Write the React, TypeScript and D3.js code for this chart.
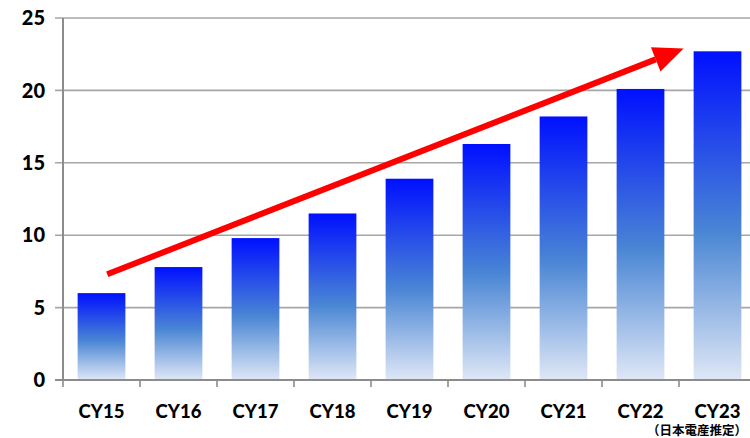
import React from "react";
import * as d3 from "d3";

const categories = ["CY15", "CY16", "CY17", "CY18", "CY19", "CY20", "CY21", "CY22", "CY23"];
const values = [6.0, 7.8, 9.8, 11.5, 13.9, 16.3, 18.2, 20.1, 22.7];
const yTicks = [0, 5, 10, 15, 20, 25];
const noteLabel = "（日本電産推定）";
const trendStart = 7.3;
const trendEnd = 22.9;

const W = 750;
const H = 438;
const left = 63;
const right = 756;
const top = 18;
const bottom = 380;

export default function App() {
  const x = d3.scaleBand<string>().domain(categories).range([left, right]).paddingInner(0.38).paddingOuter(0.19);
  const y = d3.scaleLinear().domain([0, 25]).range([bottom, top]);
  const step = x.step();
  const bw = x.bandwidth();
  const font = "Lato, 'Open Sans', sans-serif";

  const x0 = (x(categories[0]) as number) + bw * 0.62;
  const y0 = y(trendStart);
  const x1 = (x(categories[categories.length - 1]) as number) - 10;
  const y1 = y(trendEnd);
  const ang = Math.atan2(y1 - y0, x1 - x0);
  const headLen = 30;
  const headHalf = 13;
  const bx = x1 - headLen * Math.cos(ang);
  const by = y1 - headLen * Math.sin(ang);
  const px = -Math.sin(ang);
  const py = Math.cos(ang);
  const head = `M${x1},${y1} L${bx + px * headHalf},${by + py * headHalf} L${bx - px * headHalf},${by - py * headHalf} Z`;

  return (
    <svg width={W} height={H} style={{ position: "absolute", left: 0, top: 0, background: "#fff" }}>
      <defs>
        <linearGradient id="barGrad" x1="0" y1="0" x2="0" y2="1">
          <stop offset="0" stopColor="#0010ff" />
          <stop offset="0.55" stopColor="#4a86d4" />
          <stop offset="1" stopColor="#dfe7f6" />
        </linearGradient>
      </defs>
      {yTicks.map((t) => (
        <g key={t}>
          <line x1={left - 8} x2={W} y1={y(t)} y2={y(t)} stroke={t === 0 ? "#8c8c8c" : "#a6a6a6"} strokeWidth={t === 0 ? 2 : 1.6} />
          <text x={45} y={y(t)} dy="0.36em" textAnchor="end" fontFamily={font} fontWeight={900} fontSize={20} fill="#000">
            {t}
          </text>
        </g>
      ))}
      {values.map((v, i) => (
        <rect key={categories[i]} x={x(categories[i])} y={y(v)} width={bw} height={y(0) - y(v)} fill="url(#barGrad)" />
      ))}
      <line x1={left} x2={left} y1={top} y2={bottom + 1} stroke="#8c8c8c" strokeWidth={2} />
      {d3.range(categories.length + 1).map((i) => (
        <line key={i} x1={left + i * step} x2={left + i * step} y1={bottom} y2={bottom + 7} stroke="#8c8c8c" strokeWidth={1.6} />
      ))}
      <line x1={left - 8} x2={W} y1={bottom} y2={bottom} stroke="#8c8c8c" strokeWidth={2} />
      {categories.map((c) => (
        <text key={c} x={(x(c) as number) + bw / 2} y={418} textAnchor="middle" fontFamily={font} fontWeight={900} fontSize={18.5} fill="#000">
          {c}
        </text>
      ))}
      <text x={697} y={435} textAnchor="middle" fontFamily="'Noto Sans CJK JP', sans-serif" fontWeight={700} fontSize={12.5} fill="#000">
        {noteLabel}
      </text>
      <line x1={x0} y1={y0} x2={bx} y2={by} stroke="#ff0000" strokeWidth={6} />
      <path d={head} fill="#ff0000" />
    </svg>
  );
}
